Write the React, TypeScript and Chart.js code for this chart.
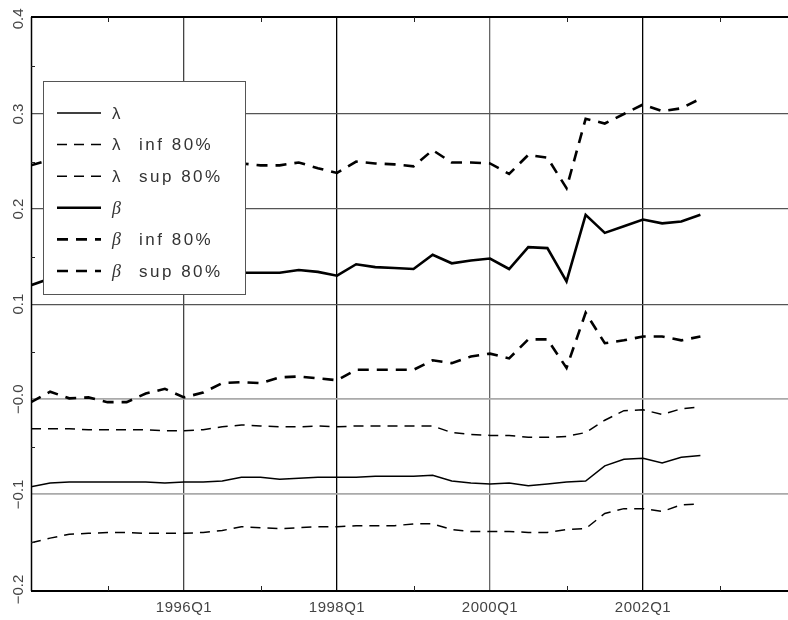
import React, { useEffect, useRef } from 'react';
import { Chart, registerables } from 'chart.js';

Chart.register(...registerables);

const quarters = [
  '1994Q1', '1994Q2', '1994Q3', '1994Q4', '1995Q1', '1995Q2', '1995Q3', '1995Q4',
  '1996Q1', '1996Q2', '1996Q3', '1996Q4', '1997Q1', '1997Q2', '1997Q3', '1997Q4',
  '1998Q1', '1998Q2', '1998Q3', '1998Q4', '1999Q1', '1999Q2', '1999Q3', '1999Q4',
  '2000Q1', '2000Q2', '2000Q3', '2000Q4', '2001Q1', '2001Q2', '2001Q3', '2001Q4',
  '2002Q1', '2002Q2', '2002Q3', '2002Q4',
];

const lambda = [
  -0.092, -0.088, -0.087, -0.087, -0.087, -0.087, -0.087, -0.088, -0.087, -0.087, -0.086, -0.082,
  -0.082, -0.084, -0.083, -0.082, -0.082, -0.082, -0.081, -0.081, -0.081, -0.080, -0.086, -0.088,
  -0.089, -0.088, -0.091, -0.089, -0.087, -0.086, -0.070, -0.063, -0.062, -0.067, -0.061, -0.059,
];

const lambdaInf = [
  -0.151, -0.146, -0.142, -0.141, -0.140, -0.140, -0.141, -0.141, -0.141, -0.140, -0.138, -0.134,
  -0.135, -0.136, -0.135, -0.134, -0.134, -0.133, -0.133, -0.133, -0.131, -0.131, -0.137, -0.139,
  -0.139, -0.139, -0.140, -0.140, -0.137, -0.136, -0.120, -0.115, -0.115, -0.118, -0.111, -0.110,
];

const lambdaSup = [
  -0.031, -0.031, -0.031, -0.032, -0.032, -0.032, -0.032, -0.033, -0.033, -0.032, -0.029, -0.027,
  -0.028, -0.029, -0.029, -0.028, -0.029, -0.028, -0.028, -0.028, -0.028, -0.028, -0.035, -0.037,
  -0.038, -0.038, -0.040, -0.040, -0.039, -0.035, -0.022, -0.012, -0.011, -0.016, -0.010, -0.008,
];

const beta = [
  0.120, 0.127, 0.128, 0.126, 0.124, 0.126, 0.128, 0.130, 0.126, 0.128, 0.131, 0.133,
  0.133, 0.133, 0.136, 0.134, 0.130, 0.142, 0.139, 0.138, 0.137, 0.152, 0.143, 0.146,
  0.148, 0.137, 0.160, 0.159, 0.124, 0.194, 0.175, 0.182, 0.189, 0.185, 0.187, 0.194,
];

const betaInf = [
  -0.003, 0.008, 0.001, 0.002, -0.003, -0.003, 0.006, 0.011, 0.002, 0.007, 0.017, 0.018,
  0.017, 0.023, 0.024, 0.022, 0.020, 0.031, 0.031, 0.031, 0.031, 0.041, 0.038, 0.045,
  0.048, 0.043, 0.063, 0.063, 0.033, 0.091, 0.059, 0.062, 0.066, 0.066, 0.062, 0.066,
];

const betaSup = [
  0.246, 0.252, 0.250, 0.247, 0.244, 0.245, 0.248, 0.250, 0.245, 0.246, 0.248, 0.248,
  0.246, 0.246, 0.249, 0.243, 0.238, 0.250, 0.248, 0.247, 0.245, 0.262, 0.249, 0.249,
  0.248, 0.237, 0.257, 0.254, 0.222, 0.295, 0.290, 0.300, 0.310, 0.303, 0.306, 0.316,
];

const seriesNames = ['λ', 'λ inf 80%', 'λ sup 80%', 'β', 'β inf 80%', 'β sup 80%'];

const xTickLabels = ['1996Q1', '1998Q1', '2000Q1', '2002Q1'];
const xMinorTickLabels = ['1995Q1', '1997Q1', '1999Q1', '2001Q1', '2003Q1'];
const yTicks = [-0.2, -0.1, 0, 0.1, 0.2, 0.3, 0.4];
const yTickLabels = ['−0.2', '−0.1', '−0.0', '0.1', '0.2', '0.3', '0.4'];
const yMinorTicks = [-0.15, -0.05, 0.05, 0.15, 0.25, 0.35];

const X_MIN = 0;
const X_MAX = 39.58;
const Y_MIN = -0.2016;
const Y_MAX = 0.402;

function qIndex(label: string): number {
  const year = parseInt(label.slice(0, 4), 10);
  const q = parseInt(label.slice(5), 10);
  return (year - 1994) * 4 + (q - 1);
}

function toPoints(values: number[]) {
  return values.map((v, i) => ({ x: qIndex(quarters[i]), y: v }));
}

const xGridColors: Record<string, string> = {
  '1996Q1': '#444444',
  '1998Q1': '#000000',
  '2000Q1': '#666666',
  '2002Q1': '#000000',
};

const decorPlugin = {
  id: 'decor',
  afterDatasetsDraw(chart: any) {
    const { ctx, chartArea } = chart;
    const xs = chart.scales.x;
    const ys = chart.scales.y;
    const { left, right, top, bottom } = chartArea;
    ctx.save();

    // frame
    ctx.strokeStyle = '#000';
    ctx.lineWidth = 2;
    ctx.beginPath();
    ctx.moveTo(left, top);
    ctx.lineTo(right, top);
    ctx.moveTo(left, bottom);
    ctx.lineTo(right, bottom);
    ctx.stroke();
    ctx.lineWidth = 1.5;
    ctx.beginPath();
    ctx.moveTo(left + 0.5, top);
    ctx.lineTo(left + 0.5, bottom);
    ctx.stroke();

    // minor ticks
    ctx.lineWidth = 1;
    ctx.strokeStyle = '#222';
    ctx.beginPath();
    yMinorTicks.forEach((v) => {
      const py = Math.round(ys.getPixelForValue(v)) + 0.5;
      ctx.moveTo(left, py);
      ctx.lineTo(left + 4, py);
    });
    xMinorTickLabels.forEach((l) => {
      const px = Math.round(xs.getPixelForValue(qIndex(l))) + 0.5;
      ctx.moveTo(px, bottom);
      ctx.lineTo(px, bottom - 5);
      ctx.moveTo(px, top);
      ctx.lineTo(px, top + 5);
    });
    ctx.stroke();

    // y labels (rotated)
    ctx.fillStyle = '#444';
    ctx.font = '15px "Liberation Sans", Arial, sans-serif';
    ctx.textAlign = 'center';
    ctx.textBaseline = 'alphabetic';
    yTicks.forEach((v, i) => {
      const py = ys.getPixelForValue(v);
      ctx.save();
      ctx.translate(left - 8, py);
      ctx.rotate(-Math.PI / 2);
      ctx.fillText(yTickLabels[i], 0, 0);
      ctx.restore();
    });

    // x labels
    ctx.font = '15px "Liberation Sans", Arial, sans-serif';
    (ctx as any).letterSpacing = '0.5px';
    xTickLabels.forEach((l) => {
      const px = xs.getPixelForValue(qIndex(l));
      ctx.fillText(l, px, bottom + 21);
    });
    (ctx as any).letterSpacing = '0px';

    // legend
    const bx = left + 12;
    const by = top + 64;
    const bw = 202;
    const bh = 213;
    ctx.fillStyle = '#fff';
    ctx.fillRect(bx, by, bw, bh);
    ctx.strokeStyle = '#555';
    ctx.lineWidth = 1;
    ctx.strokeRect(bx + 0.5, by + 0.5, bw, bh);

    chart.data.datasets.forEach((ds: any, i: number) => {
      const ry = by + 32 + i * 31.6;
      ctx.save();
      ctx.strokeStyle = '#000';
      ctx.lineWidth = ds.borderWidth;
      ctx.setLineDash(ds.borderDash || []);
      ctx.beginPath();
      ctx.moveTo(bx + 14, ry);
      ctx.lineTo(bx + 58, ry);
      ctx.stroke();
      ctx.restore();

      const name: string = ds.label;
      const sym = name.charAt(0);
      const rest = name.slice(1).trim();
      ctx.fillStyle = '#333';
      ctx.textAlign = 'left';
      ctx.textBaseline = 'middle';
      if (sym === 'β') {
        ctx.font = 'italic 18px "Liberation Serif", serif';
      } else {
        ctx.font = '17px "Liberation Sans", Arial, sans-serif';
      }
      ctx.fillText(sym, bx + 69, ry + 1);
      if (rest) {
        ctx.font = '17px "Liberation Sans", Arial, sans-serif';
        (ctx as any).letterSpacing = '2.5px';
        ctx.fillText(rest, bx + 96, ry + 1);
        (ctx as any).letterSpacing = '0px';
      }
    });

    ctx.restore();
  },
};

export default function App() {
  const canvasRef = useRef<HTMLCanvasElement | null>(null);

  useEffect(() => {
    if (!canvasRef.current) return;
    const thin = 1.5;
    const thick = 2.6;
    const chart = new Chart(canvasRef.current, {
      type: 'line',
      data: {
        datasets: [
          { label: seriesNames[0], data: toPoints(lambda), borderColor: '#000', borderWidth: thin, borderDash: [], pointRadius: 0, tension: 0 },
          { label: seriesNames[1], data: toPoints(lambdaInf), borderColor: '#000', borderWidth: thin, borderDash: [10, 7], pointRadius: 0, tension: 0 },
          { label: seriesNames[2], data: toPoints(lambdaSup), borderColor: '#000', borderWidth: thin, borderDash: [10, 7], pointRadius: 0, tension: 0 },
          { label: seriesNames[3], data: toPoints(beta), borderColor: '#000', borderWidth: thick, borderDash: [], pointRadius: 0, tension: 0 },
          { label: seriesNames[4], data: toPoints(betaInf), borderColor: '#000', borderWidth: thick, borderDash: [11, 8], pointRadius: 0, tension: 0 },
          { label: seriesNames[5], data: toPoints(betaSup), borderColor: '#000', borderWidth: thick, borderDash: [11, 8], pointRadius: 0, tension: 0 },
        ],
      },
      options: {
        animation: false,
        responsive: true,
        maintainAspectRatio: false,
        layout: { padding: { top: 17, left: 0, right: 0, bottom: 0 } },
        plugins: { legend: { display: false }, tooltip: { enabled: false } },
        scales: {
          x: {
            type: 'linear',
            min: X_MIN,
            max: X_MAX,
            afterBuildTicks: (s: any) => {
              s.ticks = xTickLabels.map((l) => ({ value: qIndex(l) }));
            },
            afterFit: (s: any) => {
              s.height = 29;
            },
            ticks: { display: false },
            border: { display: false },
            grid: {
              drawTicks: false,
              lineWidth: 1.3,
              color: (c: any) => {
                const lbl = xTickLabels.find((l) => qIndex(l) === c.tick?.value);
                return lbl ? xGridColors[lbl] : 'rgba(0,0,0,0)';
              },
            },
          },
          y: {
            type: 'linear',
            min: Y_MIN,
            max: Y_MAX,
            afterBuildTicks: (s: any) => {
              s.ticks = yTicks.map((v) => ({ value: v }));
            },
            afterFit: (s: any) => {
              s.width = 31;
            },
            ticks: { display: false },
            border: { display: false },
            grid: {
              drawTicks: false,
              lineWidth: (c: any) => {
                const v = c.tick?.value;
                return v !== undefined && v < 0.05 ? 1.8 : 1.2;
              },
              color: (c: any) => {
                const v = c.tick?.value;
                if (v === undefined || Math.abs(v - 0.4) < 1e-6 || Math.abs(v + 0.2) < 1e-6) return 'rgba(0,0,0,0)';
                return v < 0.05 ? '#aaaaaa' : '#555555';
              },
            },
          },
        },
      },
      plugins: [decorPlugin],
    } as any);
    return () => chart.destroy();
  }, []);

  return (
    <div style={{ position: 'absolute', left: 0, top: 0, width: 788, height: 620, background: '#fff' }}>
      <canvas ref={canvasRef} />
    </div>
  );
}
